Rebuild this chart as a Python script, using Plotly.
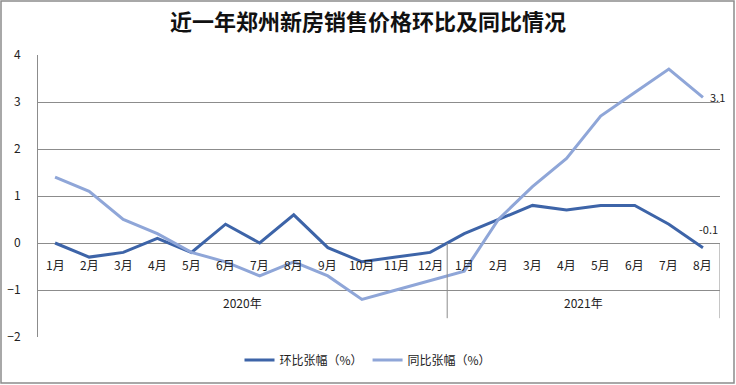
import plotly.graph_objects as go

title = "近一年郑州新房销售价格环比及同比情况"
years = ["2020年", "2021年"]
months_2020 = ["1月", "2月", "3月", "4月", "5月", "6月", "7月", "8月", "9月", "10月", "11月", "12月"]
months_2021 = ["1月", "2月", "3月", "4月", "5月", "6月", "7月", "8月"]
mom_name = "环比张幅（%）"
yoy_name = "同比张幅（%）"
mom = [0, -0.3, -0.2, 0.1, -0.2, 0.4, 0, 0.6, -0.1, -0.4, -0.3, -0.2,
       0.2, 0.5, 0.8, 0.7, 0.8, 0.8, 0.4, -0.1]
yoy = [1.4, 1.1, 0.5, 0.2, -0.2, -0.4, -0.7, -0.4, -0.7, -1.2, -1.0, -0.8,
       -0.6, 0.5, 1.2, 1.8, 2.7, 3.2, 3.7, 3.1]
y_ticks = [-2, -1, 0, 1, 2, 3, 4]

months = months_2020 + months_2021
x = list(range(len(months)))

W, H = 736, 385
ML, MR, MT, MB = 38, 16, 55, 48
PW, PH = W - ML - MR, H - MT - MB

DARK = "#3D64A8"
LIGHT = "#8FA6D8"
GRID = "#8C8C8C"
FONT = "Noto Sans CJK SC"

fig = go.Figure()
fig.add_trace(go.Scatter(x=x, y=mom, mode="lines", name=mom_name,
                         line=dict(color=DARK, width=3), cliponaxis=False))
fig.add_trace(go.Scatter(x=x, y=yoy, mode="lines", name=yoy_name,
                         line=dict(color=LIGHT, width=3), cliponaxis=False))

ann = []
for i, m in enumerate(months):
    ann.append(dict(x=i, y=0, xref="x", yref="y", text=m, showarrow=False,
                    yshift=-21, font=dict(family=FONT, size=12, color="#222")))
n1 = len(months_2020)
n2 = len(months_2021)
ann.append(dict(x=(n1 - 1) / 2, y=0, xref="x", yref="y", text=years[0], showarrow=False,
                yshift=-59, font=dict(family=FONT, size=12, color="#222")))
ann.append(dict(x=n1 + (n2 - 1) / 2, y=0, xref="x", yref="y", text=years[1], showarrow=False,
                yshift=-59, font=dict(family=FONT, size=12, color="#222")))
ann.append(dict(x=x[-1], y=yoy[-1], xref="x", yref="y", text=f"{yoy[-1]:g}", showarrow=False,
                xanchor="left", xshift=5, font=dict(family=FONT, size=11, color="#222")))
ann.append(dict(x=x[-1], y=mom[-1], xref="x", yref="y", text=f"{mom[-1]:g}", showarrow=False,
                yshift=19, xshift=6, font=dict(family=FONT, size=11, color="#222")))

shapes = []
for xv in [n1 - 0.5, len(months) - 0.5]:
    shapes.append(dict(type="line", xref="x", yref="y", x0=xv, x1=xv, y0=0, y1=-1.6,
                       line=dict(color=GRID, width=1)))
shapes.append(dict(type="rect", xref="paper", yref="paper",
                   x0=(1 - ML) / PW, x1=(W - 2 - ML) / PW,
                   y0=-(MB - 2) / PH, y1=1 + (MT - 1) / PH,
                   line=dict(color="#8C8C8C", width=1.5), fillcolor="rgba(0,0,0,0)"))

fig.update_layout(
    width=W, height=H,
    margin=dict(l=ML, r=MR, t=MT, b=MB, autoexpand=False),
    paper_bgcolor="white", plot_bgcolor="white",
    title=dict(text=f"<b>{title}</b>", x=0.5, xref="container", y=1 - 22 / H, yanchor="middle",
               font=dict(family=FONT, size=22, color="#111")),
    xaxis=dict(range=[-0.5, len(months) - 0.5], showticklabels=False, showgrid=False,
               zeroline=False, showline=False, fixedrange=True, automargin=False),
    yaxis=dict(range=[-2, 4], tickvals=y_ticks, showgrid=True, gridcolor=GRID, gridwidth=1,
               zeroline=False, showline=True, linecolor=GRID, linewidth=1,
               ticklabelstandoff=14, automargin=False,
               tickfont=dict(family=FONT, size=12, color="#222")),
    legend=dict(orientation="h", xref="container", x=0.5, xanchor="center",
                yref="container", y=1 - 360 / H, yanchor="middle",
                font=dict(family=FONT, size=12, color="#222"), itemwidth=30),
    annotations=ann,
    shapes=shapes,
)

fig.write_html("out.html", config={"displayModeBar": False},
               post_script="document.body.style.margin='0';document.body.style.overflow='hidden';")
